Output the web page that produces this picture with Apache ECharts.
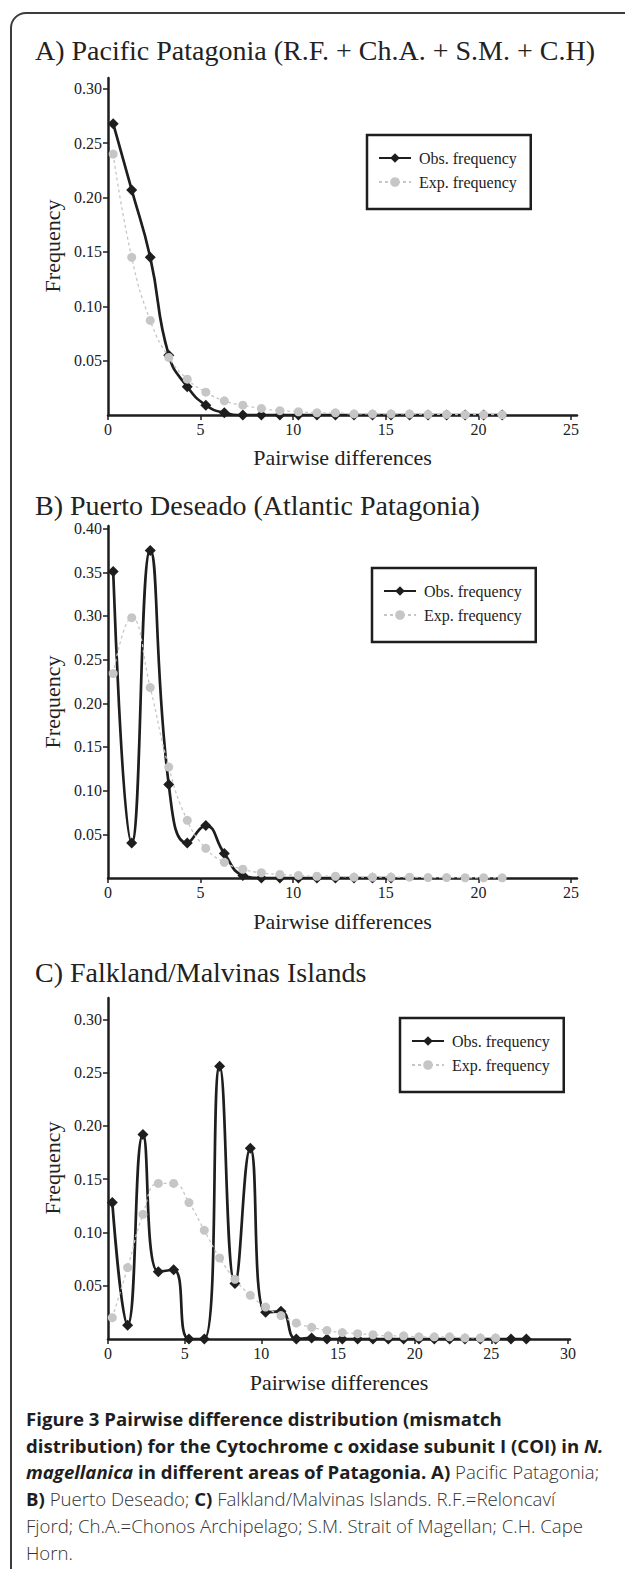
<!DOCTYPE html>
<html>
<head>
<meta charset="utf-8">
<script src="https://cdn.jsdelivr.net/npm/echarts@6/dist/echarts.min.js"></script>
<style>
html,body{margin:0;padding:0;background:#fff;width:625px;height:1569px;overflow:hidden;}
#frame{position:absolute;left:10px;top:12px;width:700px;height:1620px;border:2px solid #3c3c3c;border-radius:16px;box-sizing:border-box;}
#chart{position:absolute;left:0;top:0;width:625px;height:1569px;}
#caption{position:absolute;left:26px;top:1406px;font-family:"Open Sans",sans-serif;font-size:18.6px;font-weight:300;line-height:26.7px;color:#333;white-space:nowrap;}
#caption b{font-weight:700;color:#1e1e1e}
</style>
</head>
<body>
<div id="frame"></div>
<div id="chart"></div>
<div id="caption"><b>Figure 3 Pairwise difference distribution (mismatch<br>distribution) for the Cytochrome c oxidase subunit I (COI) in <i>N.</i><br><i>magellanica</i> in different areas of Patagonia. A)</b> Pacific Patagonia;<br><b>B)</b> Puerto Deseado; <b>C)</b> Falkland/Malvinas Islands. R.F.=Reloncaví<br>Fjord; Ch.A.=Chonos Archipelago; S.M. Strait of Magellan; C.H. Cape<br>Horn.</div>
<script>
// ---------- data ----------
const diffsA = [0,1,2,3,4,5,6,7,8,9,10,11,12,13,14,15,16,17,18,19,20,21];
const obsA = [0.268,0.207,0.145,0.055,0.026,0.009,0.002,0,0,0,0,0,0,0,0,0,0,0,0,0,0,0];
const expA = [0.240,0.145,0.087,0.053,0.033,0.021,0.013,0.009,0.006,0.004,0.003,0.002,0.002,0.001,0.001,0.001,0.001,0.0005,0.0005,0.0003,0.0003,0.0002];

const diffsObsB = [0,1,2,3,4,5,6,7,8,9,10,11,12,13,14,15];
const obsB = [0.351,0.040,0.375,0.107,0.040,0.060,0.028,0.003,0,0,0,0,0,0,0,0];
const diffsExpB = [0,1,2,3,4,5,6,7,8,9,10,11,12,13,14,15,16,17,18,19,20,21];
const expB = [0.234,0.298,0.218,0.127,0.066,0.034,0.018,0.010,0.006,0.004,0.003,0.002,0.002,0.001,0.001,0.001,0.001,0.0005,0.0005,0.0003,0.0003,0.0002];

const diffsObsC = [0,1,2,3,4,5,6,7,8,9,10,11,12,13,14,15,16,17,18,19,20,21,22,23,24,25,26,27];
const obsC = [0.128,0.013,0.192,0.063,0.065,0,0,0.256,0.052,0.179,0.025,0.026,0,0.001,0,0,0,0,0,0,0,0,0,0,0,0,0,0];
const diffsExpC = [0,1,2,3,4,5,6,7,8,9,10,11,12,13,14,15,16,17,18,19,20,21,22,23,24,25];
const expC = [0.020,0.067,0.117,0.146,0.146,0.128,0.102,0.076,0.056,0.041,0.030,0.022,0.015,0.011,0.008,0.006,0.005,0.004,0.003,0.003,0.002,0.002,0.002,0.001,0.001,0.001];

const xTicksAB = [0,5,10,15,20,25];
const xTicksC = [0,5,10,15,20,25,30];
const yTicksA = [0.05,0.10,0.15,0.20,0.25,0.30];
const yTicksB = [0.05,0.10,0.15,0.20,0.25,0.30,0.35,0.40];
const yTicksC = [0.05,0.10,0.15,0.20,0.25,0.30];

const titles = ['A) Pacific Patagonia (R.F. + Ch.A. + S.M. + C.H)', 'B) Puerto Deseado (Atlantic Patagonia)', 'C) Falkland/Malvinas Islands'];
const legendNames = ['Obs. frequency', 'Exp. frequency'];
const xName = 'Pairwise differences';
const yName = 'Frequency';

// ---------- layout / style ----------
const xShift = 0.28; // markers sit slightly right of the integer tick in the original
const SERIF = '"Liberation Serif","Times New Roman",serif';
const INK = '#1e1e1e';
const GREY = '#c6c6c6';

const panels = [
  {grid:{left:108, top:78, width:469, height:337}, xMax:25.32, yMax:0.31, xt:xTicksAB, yt:yTicksA, titleY:50, nameY:457, freqY:246,
   legend:{left:367, top:135}, obs:[diffsA, obsA], exp:[diffsA, expA]},
  {grid:{left:108, top:526, width:469, height:352}, xMax:25.32, yMax:0.403, xt:xTicksAB, yt:yTicksB, titleY:505, nameY:921, freqY:702,
   legend:{left:372, top:568}, obs:[diffsObsB, obsB], exp:[diffsExpB, expB]},
  {grid:{left:108, top:998, width:462, height:341}, xMax:30.13, yMax:0.32, xt:xTicksC, yt:yTicksC, titleY:972, nameY:1382, freqY:1168,
   legend:{left:400, top:1018}, obs:[diffsObsC, obsC], exp:[diffsExpC, expC]}
];

const toPts = (xs, ys) => xs.map((d, i) => [d + xShift, ys[i]]);

const option = {
  animation:false,
  backgroundColor:'transparent',
  grid:[], xAxis:[], yAxis:[], series:[], legend:[], graphic:[]
};

panels.forEach((p, gi) => {
  option.grid.push(Object.assign({containLabel:false}, p.grid));
  option.xAxis.push({
    type:'value', gridIndex:gi, min:0, max:p.xMax,
    axisLine:{show:true, onZero:false, lineStyle:{color:INK, width:2.5}},
    axisTick:{show:true, length:5, customValues:p.xt, lineStyle:{color:INK, width:1.5}},
    axisLabel:{customValues:p.xt, fontFamily:SERIF, fontSize:16, color:'#222', margin:6},
    splitLine:{show:false}
  });
  option.yAxis.push({
    type:'value', gridIndex:gi, min:0, max:p.yMax,
    axisLine:{show:true, onZero:false, lineStyle:{color:INK, width:2.5}},
    axisTick:{show:true, length:5, customValues:p.yt, lineStyle:{color:INK, width:1.5}},
    axisLabel:{customValues:p.yt, formatter:v => v.toFixed(2), fontFamily:SERIF, fontSize:16, color:'#222', margin:6},
    splitLine:{show:false}
  });
  option.series.push({
    name:legendNames[0], type:'line', xAxisIndex:gi, yAxisIndex:gi,
    data:toPts(p.obs[0], p.obs[1]), smooth:0.5,
    symbol:'diamond', symbolSize:11, showAllSymbol:true,
    lineStyle:{color:INK, width:2.7}, itemStyle:{color:INK}, z:2
  });
  option.series.push({
    name:legendNames[1], type:'line', xAxisIndex:gi, yAxisIndex:gi,
    data:toPts(p.exp[0], p.exp[1]), smooth:0.5,
    symbol:'circle', symbolSize:9, showAllSymbol:true,
    lineStyle:{color:GREY, width:1.3, type:[3,3]}, itemStyle:{color:GREY}, z:3
  });
  option.legend.push({
    left:p.legend.left, top:p.legend.top, orient:'vertical', data:legendNames,
    borderColor:INK, borderWidth:2.5, padding:[15,14,19,11], itemGap:8,
    itemWidth:32, itemHeight:12, selectedMode:false,
    textStyle:{fontFamily:SERIF, fontSize:16, color:'#222', padding:[0,0,0,3]}
  });
  option.graphic.push({type:'text', x:35, y:p.titleY, style:{text:titles[gi], fontFamily:SERIF, fontSize:28, fill:'#222', align:'left', verticalAlign:'middle'}});
  option.graphic.push({type:'text', x:p.grid.left + p.grid.width/2, y:p.nameY, style:{text:xName, fontFamily:SERIF, fontSize:22, fill:'#222', align:'center', verticalAlign:'middle'}});
  option.graphic.push({type:'text', x:52, y:p.freqY, rotation:Math.PI/2, style:{text:yName, fontFamily:SERIF, fontSize:22, fill:'#222', align:'center', verticalAlign:'middle'}});
});

const chart = echarts.init(document.getElementById('chart'), null, {renderer:'svg', width:625, height:1569});
chart.setOption(option);
</script>
</body>
</html>
